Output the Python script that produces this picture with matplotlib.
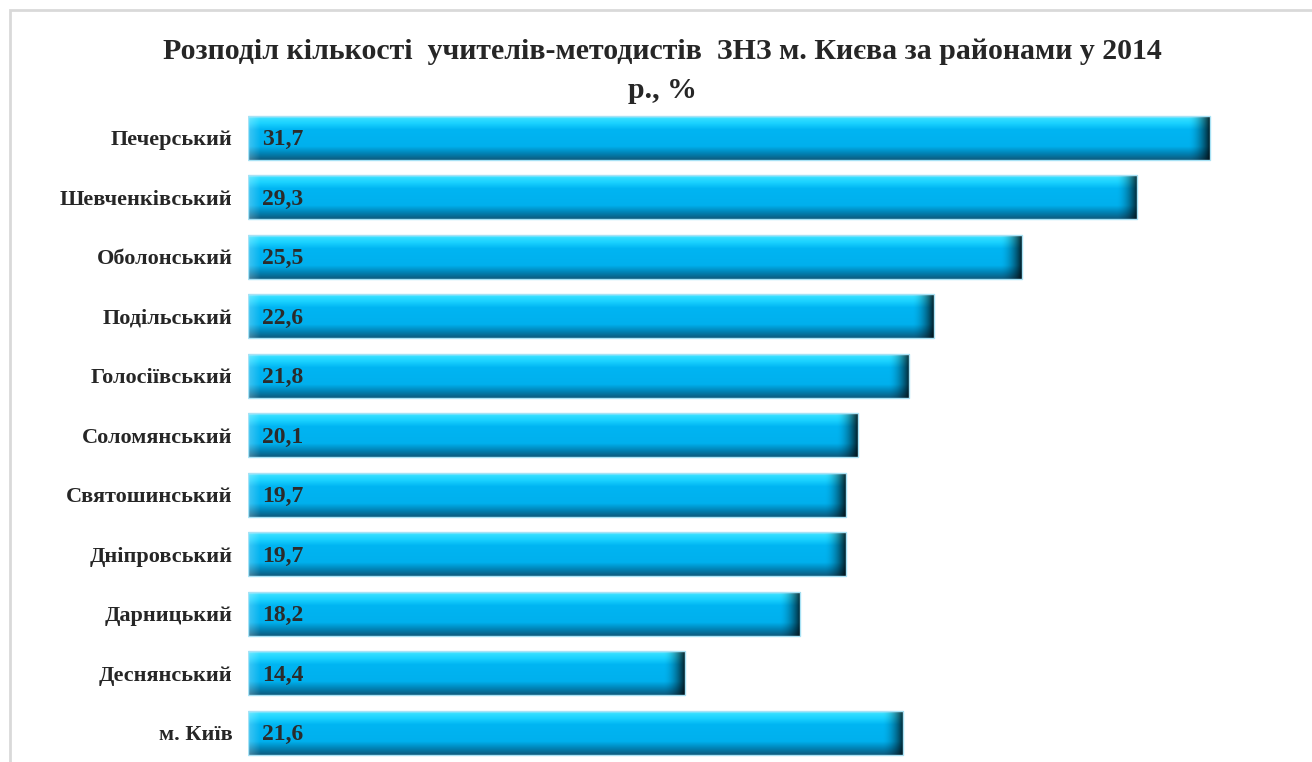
import numpy as np
import matplotlib
matplotlib.use("Agg")
import matplotlib.pyplot as plt
from matplotlib.patches import Rectangle

# Data
districts = ["Печерський", "Шевченківський", "Оболонський", "Подільський",
             "Голосіївський", "Соломянський", "Святошинський", "Дніпровський",
             "Дарницький", "Деснянський", "м. Київ"]
values = [31.7, 29.3, 25.5, 22.6, 21.8, 20.1, 19.7, 19.7, 18.2, 14.4, 21.6]
title = "Розподіл кількості  учителів-методистів  ЗНЗ м. Києва за районами у 2014\nр., %"

plt.rcParams["font.family"] = ["Liberation Serif", "DejaVu Serif"]

W, H = 1312, 762
fig = plt.figure(figsize=(W / 100, H / 100), dpi=100)
ax = fig.add_axes([248 / W, 0, 1062 / W, 654 / H])

bar_h = 0.74
bevel = 0.7

# vertical colour profile of a bevelled bar (top -> bottom)
stops = np.array([0.0, 0.07, 0.18, 0.32, 0.70, 0.85, 1.0])
cols = np.array([[0.75, 0.93, 1.00],
                 [0.20, 0.87, 1.00],
                 [0.10, 0.82, 1.00],
                 [0.00, 0.71, 0.95],
                 [0.00, 0.69, 0.93],
                 [0.00, 0.52, 0.72],
                 [0.05, 0.36, 0.50]])
ty = np.linspace(0, 1, 60)
profile = np.stack([np.interp(ty, stops, cols[:, k]) for k in range(3)], axis=1)

bars = ax.barh(range(len(values)), values, height=bar_h, color="#00b4f0",
               edgecolor="none", zorder=1)

for bar, v in zip(bars, values):
    nx = int(v * 30)
    xs = np.linspace(0, v, nx)
    img = np.repeat(profile[:, None, :], nx, axis=1)
    f = np.clip((xs - (v - bevel)) / bevel, 0, 1)
    img = img * (1 - 0.8 * f[None, :, None] ** 1.8)
    g = np.clip(1 - xs / 0.4, 0, 1)
    img = img + (1 - img) * 0.25 * g[None, :, None]
    y0 = bar.get_y()
    im = ax.imshow(img, extent=(0, v, y0 + bar_h, y0), aspect="auto",
                   interpolation="bilinear", zorder=2)
    im.set_clip_path(bar)

ax.barh(range(len(values)), values, height=bar_h, color="none",
        edgecolor="#a8e2f5", linewidth=1, zorder=3)

for i, v in enumerate(values):
    ax.text(0.45, i + 0.03, f"{v:.1f}".replace(".", ","), va="center", ha="left",
            fontsize=17, fontweight="bold", color="#2b2b2b", zorder=4)

ax.set_xlim(0, 35)
ax.set_ylim(10.49, -0.5)
ax.set_yticks(range(len(districts)))
ax.set_yticklabels(districts, fontsize=16, fontweight="bold", color="#262626")
ax.tick_params(axis="y", length=0, pad=11)
ax.set_xticks([])
for s in ax.spines.values():
    s.set_visible(False)

fig.text(0.505, 1 - 71 / H, title, ha="center", va="center", fontsize=21.5,
         fontweight="bold", color="#262626", linespacing=1.6,
         multialignment="center")

# chart frame (light grey border of the embedded chart)
fig.add_artist(Rectangle((10 / W, -0.05), 1.2, 1 - 10 / H + 0.05,
                         transform=fig.transFigure, fill=False,
                         edgecolor="#d9d9d9", linewidth=2))

fig.savefig("out.png", dpi=100, facecolor="white")
